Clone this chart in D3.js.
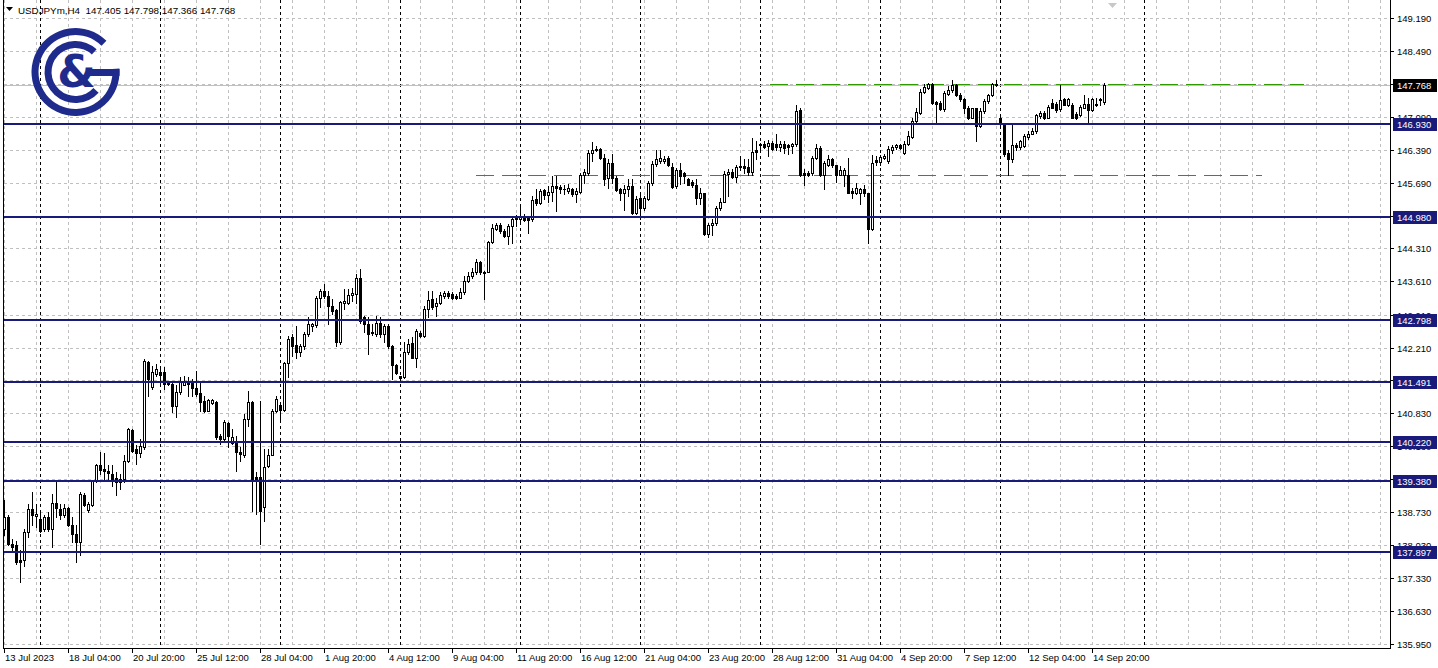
<!DOCTYPE html>
<html><head><meta charset="utf-8">
<script src="https://cdn.jsdelivr.net/npm/d3@7"></script>
<style>
body{margin:0;background:#fff;}
svg{display:block;font-family:"Liberation Sans",Arial,sans-serif;}
</style>
</head><body>
<svg id="chart" width="1438" height="668"></svg>
<script>
// ---- DATA (USDJPYm, H4) ----
// bar index 0 = Mon 17 Jul 2023 00:00; first bar is index -9 (13 Jul 12:00)
const firstBarIndex = -9;
const opens = [
138.38,138.62,138.06,138.03,137.71,137.71,138.31,138.80,138.65,
138.59,138.38,138.62,138.38,138.93,138.80,138.66,138.81,138.46,138.27,138.10,139.10,138.77,138.89,139.38,139.73,139.65,139.61,139.54,139.45,139.43,139.43,139.82,140.47,140.07,139.98,140.10,141.91,141.37,141.65,
141.69,141.69,141.48,141.44,140.98,141.28,141.43,141.50,141.48,141.36,141.25,141.09,140.88,141.03,141.05,140.35,140.28,140.62,140.19,140.24,140.01,139.93,140.71,141.07,139.47,139.47,138.84,139.70,139.93,140.88,
141.00,140.90,141.88,142.43,142.26,142.11,142.24,142.50,142.67,142.69,143.27,143.41,143.31,143.09,143.00,142.33,143.16,143.16,143.32,143.34,143.69,142.85,142.71,142.52,142.50,142.73,142.50,142.66,142.25,141.84,
141.60,141.58,142.11,142.31,142.00,142.52,142.46,143.02,143.24,143.08,143.15,143.31,143.36,143.34,143.31,143.27,143.39,143.62,143.73,143.80,144.02,143.81,143.81,144.45,144.71,144.80,144.68,144.57,144.78,144.92,
144.94,145.00,144.96,144.92,145.35,145.26,145.54,145.44,145.51,145.63,145.61,145.56,145.52,145.57,145.45,145.50,145.87,145.91,146.33,146.40,146.42,146.23,145.80,146.12,145.80,145.56,145.47,145.57,145.63,145.06,
145.38,145.17,145.36,145.70,146.09,146.15,146.15,146.22,146.03,145.63,145.96,145.91,145.77,145.72,145.66,145.37,145.47,144.62,144.80,144.85,145.17,145.29,145.89,145.93,145.82,146.03,146.05,146.03,145.93,146.38,
146.51,146.52,146.47,146.54,146.51,146.45,146.52,146.49,146.47,146.51,147.24,145.91,145.91,145.91,146.22,146.43,145.87,146.07,146.19,146.07,145.87,145.87,145.87,145.52,145.49,145.49,145.56,145.47,144.71,146.17,
146.14,146.23,146.16,146.40,146.45,146.49,146.33,146.51,146.67,147.00,147.18,147.62,147.71,147.78,147.40,147.39,147.25,147.58,147.65,147.76,147.56,147.46,147.28,147.07,147.27,146.90,147.21,147.42,147.55,147.76,
147.07,146.94,146.33,146.19,146.49,146.45,146.47,146.66,146.73,146.79,147.11,147.18,147.07,147.39,147.37,147.25,147.46,147.35,147.35,147.15,147.13,147.28,147.37,147.23,147.37,147.44,147.405
];
const highs = [
138.98,138.66,138.17,138.13,137.92,138.38,138.91,139.15,138.91,
138.73,138.66,138.73,139.12,139.40,138.91,138.91,138.83,138.62,138.45,139.15,139.14,138.94,139.40,139.75,140.00,139.98,139.72,139.72,139.58,139.54,139.93,140.50,140.49,140.14,140.28,141.97,141.93,141.83,141.86,
141.83,141.79,141.51,141.48,141.41,141.58,141.62,141.58,141.55,141.72,141.51,141.19,141.12,141.12,141.09,140.38,140.67,140.63,140.49,140.35,140.10,140.81,141.30,141.09,139.57,141.09,140.07,140.07,140.91,141.19,
141.05,141.90,142.46,142.50,142.67,142.28,142.53,142.85,142.74,143.31,143.46,143.55,143.41,143.24,143.02,143.20,143.45,143.46,143.48,143.76,143.88,142.88,142.85,142.71,142.87,142.85,142.71,142.71,142.26,141.86,
141.62,142.32,142.39,142.43,142.60,142.57,143.09,143.41,143.41,143.25,143.38,143.41,143.41,143.39,143.34,143.48,143.73,143.80,143.90,144.08,144.04,143.84,144.47,144.82,144.85,144.84,144.71,144.82,144.98,145.01,
145.21,145.03,145.00,145.42,145.56,145.57,145.57,145.63,145.84,145.84,145.66,145.66,145.68,145.59,145.59,145.91,145.98,146.40,146.56,146.47,146.44,146.30,146.19,146.30,145.84,145.59,145.66,145.77,145.77,145.42,
145.45,145.42,145.73,146.16,146.40,146.40,146.26,146.26,146.12,146.00,146.12,145.93,145.80,145.75,145.77,145.59,145.49,144.85,144.92,145.20,145.38,145.94,145.98,145.98,146.08,146.26,146.19,146.19,146.65,146.58,
146.54,146.58,146.61,146.58,146.73,146.58,146.58,146.52,146.54,147.35,147.28,145.98,145.94,146.26,146.52,146.47,146.15,146.28,146.21,146.08,146.05,146.01,146.22,145.59,145.70,145.59,145.66,145.49,146.29,146.26,
146.28,146.31,146.47,146.49,146.52,146.51,146.58,146.79,147.07,147.28,147.67,147.78,147.81,147.81,147.42,147.42,147.63,147.74,147.88,147.79,147.60,147.49,147.32,147.28,147.28,147.28,147.46,147.58,147.81,147.88,
147.11,146.97,146.40,146.94,146.54,146.61,146.72,146.79,146.86,147.15,147.21,147.21,147.34,147.46,147.41,147.76,147.49,147.49,147.39,147.20,147.34,147.56,147.49,147.49,147.49,147.49,147.798
];
const lows = [
138.24,138.03,137.92,137.64,137.25,137.60,138.20,138.45,138.41,
138.32,138.34,138.34,137.99,138.62,138.59,138.62,138.43,138.10,137.67,137.82,138.87,138.74,138.87,139.36,139.54,139.43,139.43,139.29,139.10,139.22,139.36,139.79,140.00,139.75,139.89,140.07,141.19,141.34,141.62,
141.41,141.34,141.41,140.84,140.74,141.23,141.41,141.19,141.19,141.19,140.88,140.84,140.86,141.02,140.28,140.17,140.24,140.10,140.17,139.61,139.82,139.89,140.56,138.76,138.69,138.06,138.55,139.68,139.93,140.84,
140.70,140.88,141.58,142.04,142.00,142.04,142.19,142.46,142.57,142.64,143.06,143.27,142.71,142.92,142.24,142.28,143.02,143.13,143.20,143.16,142.74,142.55,142.07,142.47,142.46,142.43,142.32,142.21,141.55,141.65,
141.55,141.56,142.07,141.98,141.79,142.43,142.43,142.85,143.02,142.88,143.13,143.27,143.27,143.24,143.24,143.25,143.34,143.59,143.69,143.76,143.76,143.24,143.80,144.43,144.70,144.64,144.56,144.40,144.42,144.78,
144.85,144.89,144.64,144.89,145.22,145.24,145.35,145.28,145.31,145.10,145.47,145.45,145.49,145.42,145.29,145.47,145.70,145.87,146.16,146.37,146.19,145.66,145.59,145.70,145.52,145.33,145.13,145.42,145.03,145.03,
144.92,145.13,145.33,145.66,146.06,146.12,146.12,146.05,145.58,145.58,145.68,145.70,145.65,145.61,145.24,145.24,144.59,144.54,144.60,144.80,145.13,145.28,145.41,145.79,145.72,145.96,145.91,145.87,145.87,146.19,
146.40,146.44,146.26,146.40,146.40,146.36,146.33,146.31,146.33,146.47,145.84,145.66,145.84,145.87,146.19,145.84,145.56,146.05,146.03,145.72,145.86,145.63,145.47,145.38,145.45,145.24,145.41,144.43,144.69,146.08,
146.07,146.19,146.12,146.33,146.42,146.42,146.31,146.49,146.65,146.96,147.16,147.60,147.67,147.37,146.99,147.23,147.21,147.55,147.62,147.53,147.42,147.18,147.04,147.06,146.58,146.87,147.18,147.39,147.53,147.74,
146.92,146.26,145.87,146.14,146.40,146.42,146.45,146.63,146.72,146.75,147.07,147.04,147.06,147.27,147.20,147.21,147.34,147.32,147.06,147.04,147.11,147.27,146.99,147.21,147.32,147.35,147.366
];
const closes = [
138.62,138.06,137.99,137.67,137.67,138.31,138.80,138.66,138.70,
138.34,138.62,138.38,138.93,138.81,138.68,138.81,138.45,138.27,138.10,139.12,138.89,138.91,139.38,139.73,139.63,139.61,139.56,139.40,139.36,139.36,139.82,140.48,140.03,139.98,140.12,141.92,141.55,141.69,141.76,
141.63,141.45,141.44,140.98,141.28,141.48,141.50,141.45,141.36,141.22,141.05,140.88,141.10,141.10,140.31,140.27,140.63,140.35,140.33,140.00,139.96,140.71,141.07,139.40,139.42,138.76,139.68,139.93,140.86,141.12,
140.90,141.88,142.40,142.25,142.11,142.25,142.50,142.72,142.71,143.27,143.40,143.31,143.09,142.99,142.33,143.18,143.19,143.32,143.36,143.69,142.78,142.71,142.50,142.53,142.74,142.50,142.66,142.24,141.84,141.67,
141.57,142.12,142.28,142.00,142.57,142.46,143.02,143.22,143.06,143.15,143.32,143.36,143.31,143.27,143.27,143.39,143.62,143.73,143.80,144.02,143.80,143.79,144.45,144.73,144.80,144.68,144.57,144.78,144.92,144.96,
144.98,144.91,144.91,145.33,145.26,145.52,145.44,145.51,145.63,145.58,145.56,145.57,145.59,145.45,145.52,145.87,145.92,146.32,146.40,146.42,146.23,145.78,146.12,145.80,145.54,145.47,145.57,145.63,145.06,145.36,
145.17,145.38,145.70,146.09,146.19,146.22,146.20,146.08,145.61,145.96,145.84,145.84,145.66,145.65,145.37,145.49,144.62,144.80,144.85,145.17,145.29,145.89,145.93,145.82,146.03,146.05,146.01,145.93,146.35,146.35,
146.49,146.45,146.54,146.42,146.45,146.52,146.43,146.45,146.51,147.22,145.87,145.86,145.87,146.22,146.43,145.87,146.12,146.19,146.08,145.87,145.96,145.96,145.49,145.49,145.58,145.56,145.47,144.71,146.12,146.14,
146.24,146.26,146.42,146.45,146.49,146.44,146.52,146.68,147.00,147.20,147.62,147.72,147.78,147.39,147.37,147.25,147.60,147.65,147.76,147.55,147.46,147.28,147.07,147.27,146.90,147.21,147.42,147.55,147.78,147.79,
146.93,146.30,146.19,146.49,146.45,146.58,146.68,146.73,146.80,147.13,147.18,147.07,147.30,147.28,147.23,147.44,147.35,147.46,147.07,147.07,147.30,147.37,147.23,147.46,147.34,147.46,147.768
];

const symbolTitle = "USDJPYm,H4";
const priceTicks = [149.190,148.490,147.790,147.090,146.390,145.690,145.000,144.310,143.610,142.910,142.210,141.520,140.830,140.130,139.430,138.730,138.030,137.330,136.630,135.950];
const timeLabels = ["13 Jul 2023","18 Jul 04:00","20 Jul 20:00","25 Jul 12:00","28 Jul 04:00","1 Aug 20:00","4 Aug 12:00","9 Aug 04:00","11 Aug 20:00","16 Aug 12:00","21 Aug 04:00","23 Aug 20:00","28 Aug 12:00","31 Aug 04:00","4 Sep 20:00","7 Sep 12:00","12 Sep 04:00","14 Sep 20:00"];
const levelPrices = [146.930,144.980,142.798,141.491,140.220,139.380,137.897];
const greenLevels = [ {price:147.78, fromBar:182.5, toBar:316}, {price:145.87, fromBar:109, toBar:305.5} ];
const bidPrice = 147.768;
const weekStarts = [0,30,60,90,120,150,180,210,240,276];

// ---- LAYOUT ----
const W = 1438, H = 668;
const plotL = 4, plotR = 1390, plotB = 648;
const svg = d3.select("#chart");
const n = closes.length;
const bars = d3.range(n).map(k => ({i: firstBarIndex + k, o: opens[k], h: highs[k], l: lows[k], c: closes[k]}));

const x = d3.scaleLinear().domain([firstBarIndex, firstBarIndex + n - 1]).range([4, 4 + 4 * (n - 1)]);
const y = d3.scaleLinear().domain([135.95, 149.19]).range([643.6, 17.6]);
const px = v => Math.round(x(v));
const py = v => Math.round(y(v));

svg.append("rect").attr("width", W).attr("height", H).attr("fill", "#fff");

const g = svg.append("g").attr("shape-rendering", "crispEdges");

// horizontal grid
g.selectAll(".hg").data(priceTicks).enter().append("line")
  .attr("x1", plotL).attr("x2", plotR)
  .attr("y1", d => py(d) + 0.5).attr("y2", d => py(d) + 0.5)
  .attr("stroke", "#c0c0c0").attr("stroke-dasharray", "3,3");

// vertical grid every 8 bars
const maxBar = x.invert(plotR);
const vgrid = d3.range(firstBarIndex, maxBar, 8);
g.selectAll(".vg").data(vgrid).enter().append("line")
  .attr("x1", d => px(d) + 0.5).attr("x2", d => px(d) + 0.5)
  .attr("y1", 0).attr("y2", plotB)
  .attr("stroke", "#c0c0c0").attr("stroke-dasharray", "3,3");

// week separators
g.selectAll(".ws").data(weekStarts).enter().append("line")
  .attr("x1", d => px(d) + 0.5).attr("x2", d => px(d) + 0.5)
  .attr("y1", 0).attr("y2", plotB)
  .attr("stroke", "#000").attr("stroke-dasharray", "3,3");

// bid line
g.append("line").attr("x1", plotL).attr("x2", plotR)
  .attr("y1", py(bidPrice) + 0.5).attr("y2", py(bidPrice) + 0.5)
  .attr("stroke", "#c0c0c0");

// green dashed levels
g.selectAll(".gl").data(greenLevels).enter().append("line")
  .attr("x1", d => px(d.fromBar)).attr("x2", d => px(d.toBar))
  .attr("y1", d => py(d.price) + 0.5).attr("y2", d => py(d.price) + 0.5)
  .attr("stroke", "#2f9a00").attr("stroke-width", 1.2).attr("stroke-dasharray", "18,8");

// candles
const cg = g.append("g");
cg.selectAll(".wick").data(bars).enter().append("line")
  .attr("x1", d => px(d.i) + 0.5).attr("x2", d => px(d.i) + 0.5)
  .attr("y1", d => py(d.h)).attr("y2", d => py(d.l) + 1)
  .attr("stroke", "#000");
cg.selectAll(".body").data(bars).enter().append("rect")
  .attr("x", d => px(d.i) - 0.5)
  .attr("width", 2)
  .attr("y", d => Math.min(py(d.o), py(d.c)) + 0.5)
  .attr("height", d => Math.max(0.01, Math.abs(py(d.o) - py(d.c))))
  .attr("fill", d => d.c >= d.o ? "#fff" : "#000")
  .attr("stroke", "#000");

// support / resistance levels
g.selectAll(".lv").data(levelPrices).enter().append("line")
  .attr("x1", plotL).attr("x2", plotR)
  .attr("y1", d => py(d)).attr("y2", d => py(d))
  .attr("stroke", "#1a1a7a").attr("stroke-width", 2);

// frame
g.append("line").attr("x1", 3.5).attr("x2", 3.5).attr("y1", 0).attr("y2", plotB + 1).attr("stroke", "#000");
g.append("line").attr("x1", plotR + 0.5).attr("x2", plotR + 0.5).attr("y1", 0).attr("y2", plotB + 1).attr("stroke", "#000");
g.append("line").attr("x1", 3).attr("x2", plotR + 1).attr("y1", plotB + 0.5).attr("y2", plotB + 0.5).attr("stroke", "#000");

// right axis ticks & labels
g.selectAll(".yt").data(priceTicks).enter().append("line")
  .attr("x1", plotR).attr("x2", plotR + 4)
  .attr("y1", d => py(d) + 0.5).attr("y2", d => py(d) + 0.5).attr("stroke", "#000");
svg.selectAll(".yl").data(priceTicks).enter().append("text")
  .attr("x", plotR + 7).attr("y", d => py(d) + 4)
  .attr("font-size", "9.5px").attr("fill", "#000")
  .text(d => d.toFixed(3));

// bottom axis
const timeTickBars = timeLabels.map((t, k) => firstBarIndex + 16 * k);
g.selectAll(".xt").data(timeTickBars).enter().append("line")
  .attr("x1", d => px(d) + 0.5).attr("x2", d => px(d) + 0.5)
  .attr("y1", plotB).attr("y2", plotB + 5).attr("stroke", "#000");
svg.selectAll(".xl").data(timeLabels).enter().append("text")
  .attr("x", (d, k) => px(timeTickBars[k]) + 1).attr("y", plotB + 13)
  .attr("font-size", "9.5px").attr("fill", "#000")
  .text(d => d);

// level price boxes
const boxes = levelPrices.map(p => ({p, fill: "#1a1a7a"})).concat([{p: bidPrice, fill: "#000"}]);
const bx = svg.selectAll(".bx").data(boxes).enter().append("g")
  .attr("transform", d => `translate(${plotR + 3},${py(d.p) - 6})`);
bx.append("rect").attr("width", 44).attr("height", 13).attr("fill", d => d.fill).attr("shape-rendering", "crispEdges");
bx.append("text").attr("x", 4).attr("y", 10).attr("font-size", "9.5px").attr("fill", "#fff").text(d => d.p.toFixed(3));

// header
svg.append("path").attr("d", "M6,7 L13,7 L9.5,11 Z").attr("fill", "#000");
const last = bars[n - 1];
svg.append("text").attr("x", 18).attr("y", 14).attr("font-size", "9.8px").attr("fill", "#000")
  .attr("xml:space", "preserve")
  .text(`${symbolTitle}  ${last.o.toFixed(3)} ${last.h.toFixed(3)} ${last.l.toFixed(3)} ${last.c.toFixed(3)}`);

// chart-shift marker
svg.append("path").attr("d", "M1108,3 L1117,3 L1112.5,8 Z").attr("fill", "#c8c8c8");

// logo
const navy = "#1e2a8c";
const logo = svg.append("g").attr("transform", "translate(75.5,72)");
logo.append("path").attr("fill", navy)
  .attr("d", d3.arc().innerRadius(37).outerRadius(44).startAngle(Math.PI / 2 - 0.08).endAngle(2 * Math.PI + 0.78)());
logo.append("rect").attr("x", 13).attr("y", -3).attr("width", 31).attr("height", 7).attr("fill", navy);
logo.append("path").attr("fill", navy)
  .attr("d", d3.arc().innerRadius(24).outerRadius(31).startAngle(2.3).endAngle(2 * Math.PI + 0.75)());
logo.append("text").attr("x", 1).attr("y", 15).attr("text-anchor", "middle")
  .attr("font-family", "'DejaVu Sans', sans-serif").attr("font-weight", "bold")
  .attr("font-size", "44px").attr("fill", navy).text("&");
</script>
</body></html>
